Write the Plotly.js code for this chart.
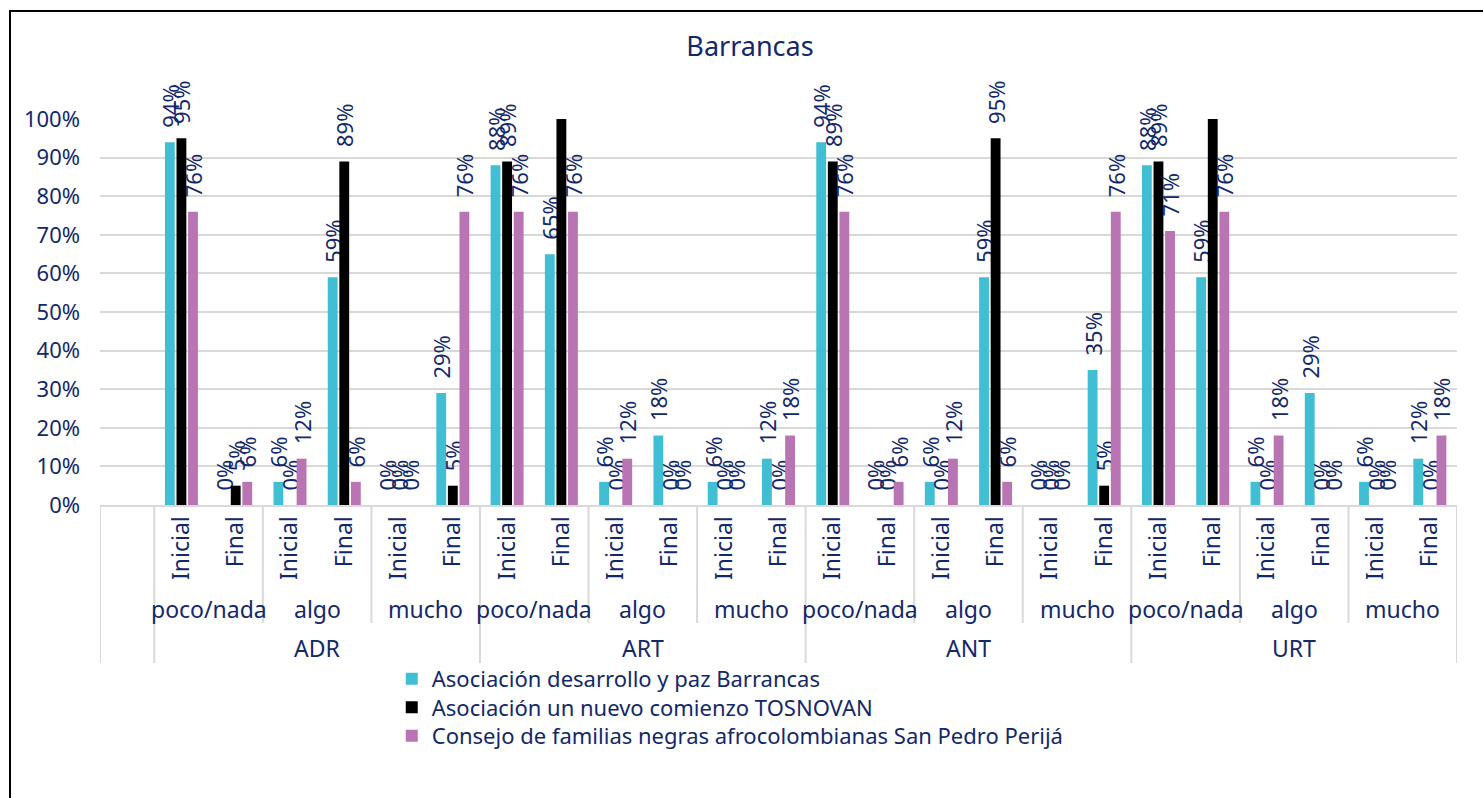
<!DOCTYPE html>
<html>
<head>
<meta charset="utf-8">
<script src="https://cdn.plot.ly/plotly-3.0.1.min.js"></script>
<style>
  html, body { margin: 0; padding: 0; background: #fff; }
  #wrap { position: relative; width: 1483px; height: 798px; overflow: hidden; }
  #chart { position: absolute; left: 0; top: 0; width: 1483px; height: 798px; }
  #frame { position: absolute; left: 9px; top: 10px; width: 1480px; height: 800px;
           border-left: 2px solid #000; border-top: 2px solid #000; pointer-events: none; }
</style>
</head>
<body>
<div id="wrap"><div id="chart"></div><div id="frame"></div></div>
<script>
// ---- data ----
const entities = ['ADR', 'ART', 'ANT', 'URT'];
const levels = ['poco/nada', 'algo', 'mucho'];
const moments = ['Inicial', 'Final'];
const seriesNames = [
  'Asociación desarrollo y paz Barrancas',
  'Asociación un nuevo comienzo TOSNOVAN',
  'Consejo de familias negras afrocolombianas San Pedro Perijá'
];
// order: entity -> level -> moment
const asociacionBarrancas = [0.94, 0.00, 0.06, 0.59, 0.00, 0.29,
                             0.88, 0.65, 0.06, 0.18, 0.06, 0.12,
                             0.94, 0.00, 0.06, 0.59, 0.00, 0.35,
                             0.88, 0.59, 0.06, 0.29, 0.06, 0.12];
const tosnovan = [0.95, 0.05, 0.00, 0.89, 0.00, 0.05,
                  0.89, 1.00, 0.00, 0.00, 0.00, 0.00,
                  0.89, 0.00, 0.00, 0.95, 0.00, 0.05,
                  0.89, 1.00, 0.00, 0.00, 0.00, 0.00];
const consejoPerija = [0.76, 0.06, 0.12, 0.06, 0.00, 0.76,
                       0.76, 0.76, 0.12, 0.00, 0.00, 0.18,
                       0.76, 0.06, 0.12, 0.06, 0.00, 0.76,
                       0.71, 0.76, 0.18, 0.00, 0.00, 0.18];
const seriesValues = [asociacionBarrancas, tosnovan, consejoPerija];
const seriesColors = ['#40BED4', '#000000', '#B974B4'];

// ---- layout helpers ----
const navy = '#13286b';
const fontFam = '"Noto Sans", "Open Sans", sans-serif';
const nCat = entities.length * levels.length * moments.length;
const xIdx = Array.from({length: nCat}, (_, i) => i + 1); // index 0 is an empty leading slot
const tickText = xIdx.map((_, i) => moments[i % moments.length]);
const pad = '\u00a0\u00a0';
const legendIds = ['legend', 'legend2', 'legend3'];

const traces = seriesValues.map((vals, s) => ({
  type: 'bar',
  name: seriesNames[s],
  legend: legendIds[s],
  x: xIdx,
  y: vals,
  marker: {color: seriesColors[s]},
  text: vals.map(v => v >= 1 ? '' : pad + Math.round(v * 100) + '%'),
  textposition: 'outside',
  textangle: -90,
  constraintext: 'none',
  cliponaxis: false,
  textfont: {family: fontFam, size: 22, color: navy},
  hoverinfo: 'skip'
}));

const plotTopPx = 119, plotBotPx = 505, plotH = plotBotPx - plotTopPx;
const pyFromPx = px => (plotBotPx - px) / plotH;

const annotations = [];
const shapes = [];
const perEntity = levels.length * moments.length;
entities.forEach((ent, e) => {
  levels.forEach((lev, l) => {
    const start = 1 + e * perEntity + l * moments.length;
    const center = start + (moments.length - 1) / 2;
    annotations.push({x: center, y: pyFromPx(609), xref: 'x', yref: 'paper', text: lev,
      showarrow: false, yanchor: 'middle', font: {family: fontFam, size: 23, color: navy}});
    const isEntityStart = (l === 0);
    shapes.push({type: 'line', xref: 'x', yref: 'paper', x0: start - 0.5, x1: start - 0.5,
      y0: 0, y1: pyFromPx(isEntityStart ? 663 : 623), line: {color: '#d9d9d9', width: 2}});
  });
  const eCenter = 1 + e * perEntity + (perEntity - 1) / 2;
  annotations.push({x: eCenter, y: pyFromPx(648), xref: 'x', yref: 'paper', text: ent,
    showarrow: false, yanchor: 'middle', font: {family: fontFam, size: 23, color: navy}});
});
shapes.push({type: 'line', xref: 'x', yref: 'paper', x0: nCat + 0.5, x1: nCat + 0.5,
  y0: 0, y1: pyFromPx(663), line: {color: '#d9d9d9', width: 2}});
shapes.push({type: 'line', xref: 'x', yref: 'paper', x0: -0.5, x1: -0.5,
  y0: 0, y1: pyFromPx(663), line: {color: '#d9d9d9', width: 2}});

const legendTopsPx = [658, 686.5, 715];
const mkLegend = (topPx) => ({orientation: 'v', x: 0.215, xanchor: 'left', y: pyFromPx(topPx), yanchor: 'top',
  font: {family: fontFam, size: 22, color: navy}, itemwidth: 30, bgcolor: 'rgba(0,0,0,0)'});

const layout = {
  width: 1483, height: 798,
  paper_bgcolor: '#ffffff', plot_bgcolor: '#ffffff',
  margin: {l: 100, r: 1483 - 1457, t: plotTopPx, b: 798 - plotBotPx, pad: 0},
  font: {family: fontFam, color: navy},
  title: {text: 'Barrancas', x: 750 / 1483, xref: 'container', xanchor: 'center',
          y: 1 - 47 / 798, yref: 'container', yanchor: 'middle',
          font: {family: fontFam, size: 27, color: navy}},
  barmode: 'group', bargap: 0.36, bargroupgap: 0.15,
  showlegend: true,
  legend: mkLegend(legendTopsPx[0]),
  legend2: mkLegend(legendTopsPx[1]),
  legend3: mkLegend(legendTopsPx[2]),
  xaxis: {range: [-0.5, nCat + 0.5], tickmode: 'array', tickvals: xIdx, ticktext: tickText,
          tickangle: -90, ticks: '', ticklabelstandoff: 0, showgrid: false, zeroline: false,
          showline: true, linecolor: '#d9d9d9', linewidth: 2,
          tickfont: {family: fontFam, size: 23, color: navy}, fixedrange: true},
  yaxis: {range: [0, 1.0001], dtick: 0.1, tick0: 0, tickformat: '.0%', showgrid: true,
          gridcolor: '#d9d9d9', gridwidth: 2, zeroline: false, showline: false, ticks: '',
          ticklabelstandoff: 19, tickfont: {family: fontFam, size: 22, color: navy}, fixedrange: true},
  annotations: annotations,
  shapes: shapes
};

Plotly.newPlot('chart', traces, layout, {displayModeBar: false, staticPlot: true});
</script>
</body>
</html>
